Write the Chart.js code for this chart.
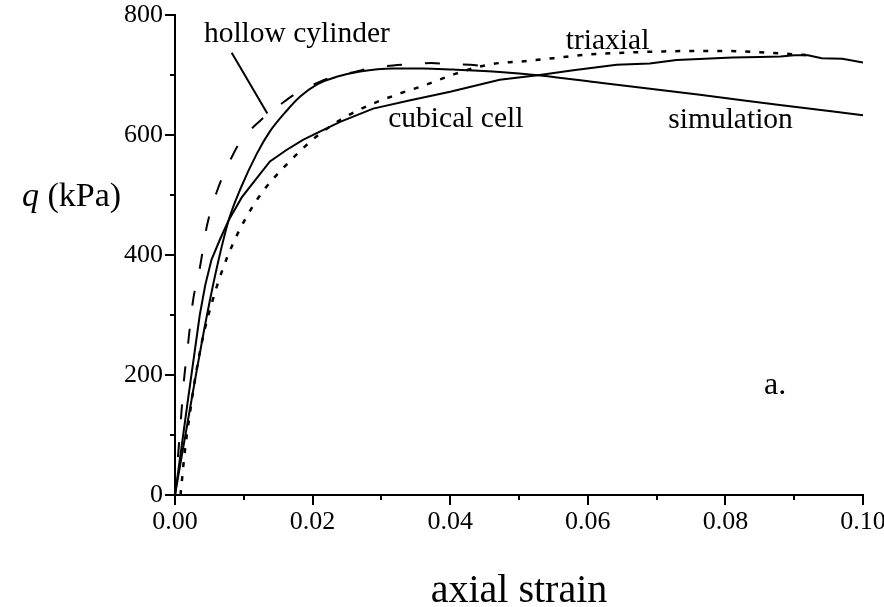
<!DOCTYPE html>
<html>
<head>
<meta charset="utf-8">
<script src="https://cdn.jsdelivr.net/npm/chart.js@4.4.1/dist/chart.umd.min.js"></script>
<style>
  html, body { margin: 0; padding: 0; background: #ffffff; }
  #wrap { width: 884px; height: 607px; }
</style>
</head>
<body>
<div id="wrap"><canvas id="chart" width="884" height="607"></canvas></div>
<script>
// Deviator stress q (kPa) against axial strain for four test types.
const simStrain = [0, 0.0025, 0.0046, 0.0062, 0.0078, 0.0095, 0.0119, 0.0138, 0.0162, 0.0182, 0.0206, 0.0235, 0.0269, 0.0317, 0.0360, 0.0404, 0.0472, 0.0531, 0.0618, 0.0763, 0.0879, 0.1000];
const simQ      = [0, 165, 297, 385, 458, 510, 569, 606, 640, 664, 684, 697, 706, 711, 711, 709, 705, 699, 687, 667, 650, 633];

const cubicStrain = [0, 0.0019, 0.0036, 0.0044, 0.0053, 0.0065, 0.0078, 0.0097, 0.0118, 0.0138, 0.0162, 0.0186, 0.0206, 0.0240, 0.0288, 0.0342, 0.0400, 0.0472, 0.0530, 0.0579, 0.0642, 0.0690, 0.0729, 0.0770, 0.0810, 0.0850, 0.0880, 0.0900, 0.0920, 0.0940, 0.0970, 0.1000];
const cubicQ      = [0, 160, 300, 350, 392, 425, 458, 496, 527, 556, 575, 592, 603, 622, 644, 658, 672, 692, 700, 708, 717, 719, 725, 727, 729, 730, 731, 733, 733, 728, 727, 721];

const hollowStrain = [0, 0.00087, 0.00131, 0.00193, 0.00257, 0.00363, 0.00461, 0.00606, 0.00824, 0.00945, 0.0125, 0.0158, 0.0177, 0.0211, 0.0230, 0.0264, 0.0283, 0.0317, 0.0342, 0.0373, 0.0397, 0.0429, 0.0451];
const hollowQ      = [0, 128, 192, 255, 320, 380, 447, 505, 563, 588, 625, 655, 670, 689, 697, 706, 711, 716, 718, 720, 718, 717, 714];

const triaxStrain = [0.0008, 0.00145, 0.00203, 0.00266, 0.00339, 0.0043, 0.00548, 0.00679, 0.00847, 0.01042, 0.01283, 0.01574, 0.0189, 0.0206, 0.0240, 0.0279, 0.0324, 0.0363, 0.0405, 0.0443, 0.0472, 0.0497, 0.055, 0.060, 0.065, 0.070, 0.075, 0.080, 0.085, 0.092];
const triaxQ      = [0, 75, 125, 175, 225, 275, 325, 372, 420, 464, 507, 545, 581, 598, 625, 648, 668, 683, 701, 714, 720, 722, 728, 734, 737, 739, 740, 740, 738, 733];

// Axis ticks
const xTickValues  = [0, 0.02, 0.04, 0.06, 0.08, 0.10];
const xMinorValues = [0.01, 0.03, 0.05, 0.07, 0.09];
const yTickValues  = [0, 200, 400, 600, 800];
const yMinorValues = [100, 300, 500, 700];

// Curve labels, anchored in data units (left edge, baseline)
const callouts = [
  { text: 'hollow cylinder', strain: 0.0042, q: 755, size: 29.5 },
  { text: 'triaxial',        strain: 0.0568, q: 743, size: 29.5 },
  { text: 'cubical cell',    strain: 0.0310, q: 614, size: 29.5 },
  { text: 'simulation',      strain: 0.0717, q: 612, size: 29.5 },
  { text: 'a.',              strain: 0.0856, q: 168, size: 32 }
];
// Leader from the "hollow cylinder" label to its curve
const leader = { from: { strain: 0.00824, q: 737 }, to: { strain: 0.01342, q: 636 } };

const SERIF = '"Liberation Serif", "Times New Roman", serif';

function pairs(xs, ys) { return xs.map((v, i) => ({ x: v, y: ys[i] })); }

const decorations = {
  id: 'decorations',
  afterDraw(chart) {
    const { ctx, scales: { x, y } } = chart;
    ctx.save();
    ctx.strokeStyle = '#000';
    ctx.fillStyle = '#000';
    ctx.lineWidth = 2;
    ctx.lineCap = 'butt';
    const x0 = x.getPixelForValue(0);
    const y0 = y.getPixelForValue(0);
    const seg = (a, b, c, d) => { ctx.beginPath(); ctx.moveTo(a, b); ctx.lineTo(c, d); ctx.stroke(); };
    xTickValues.forEach(v => { const p = Math.round(x.getPixelForValue(v)); seg(p, y0, p, y0 + 10); });
    xMinorValues.forEach(v => { const p = Math.round(x.getPixelForValue(v)); seg(p, y0, p, y0 + 5); });
    yTickValues.forEach(v => { const p = Math.round(y.getPixelForValue(v)); seg(x0, p, x0 - 10, p); });
    yMinorValues.forEach(v => { const p = Math.round(y.getPixelForValue(v)); seg(x0, p, x0 - 5, p); });

    // leader line
    seg(x.getPixelForValue(leader.from.strain), y.getPixelForValue(leader.from.q),
        x.getPixelForValue(leader.to.strain), y.getPixelForValue(leader.to.q));

    // curve labels
    ctx.textAlign = 'left';
    ctx.textBaseline = 'alphabetic';
    callouts.forEach(c => {
      ctx.font = c.size + 'px ' + SERIF;
      ctx.fillText(c.text, x.getPixelForValue(c.strain), y.getPixelForValue(c.q));
    });

    // y-axis title, set horizontally with an italic q
    const ty = y.getPixelForValue(497);
    ctx.textBaseline = 'middle';
    ctx.font = 'italic 34px ' + SERIF;
    ctx.fillText('q', 22, ty);
    const qw = ctx.measureText('q').width;
    ctx.font = '34px ' + SERIF;
    ctx.fillText(' (kPa)', 22 + qw, ty);
    ctx.restore();
  }
};

new Chart(document.getElementById('chart'), {
  type: 'line',
  data: {
    datasets: [
      { label: 'simulation', data: pairs(simStrain, simQ), borderColor: '#000', borderWidth: 2, cubicInterpolationMode: 'monotone' },
      { label: 'cubical cell', data: pairs(cubicStrain, cubicQ), borderColor: '#000', borderWidth: 2, tension: 0 },
      { label: 'hollow cylinder', data: pairs(hollowStrain, hollowQ), borderColor: '#000', borderWidth: 2, borderDash: [15, 23], cubicInterpolationMode: 'monotone' },
      { label: 'triaxial', data: pairs(triaxStrain, triaxQ), borderColor: '#000', borderWidth: 2.5, borderDash: [5, 9], cubicInterpolationMode: 'monotone' }
    ]
  },
  options: {
    responsive: false,
    animation: false,
    devicePixelRatio: 1,
    layout: { padding: { top: 15, right: 21, left: 0, bottom: 0 } },
    elements: { point: { radius: 0 }, line: { fill: false } },
    plugins: { legend: { display: false }, tooltip: { enabled: false } },
    scales: {
      x: {
        type: 'linear', min: 0, max: 0.1,
        afterBuildTicks: s => { s.ticks = xTickValues.map(v => ({ value: v })); },
        ticks: { callback: v => Number(v).toFixed(2), font: { family: SERIF, size: 26 }, color: '#000', padding: 12, maxRotation: 0, autoSkip: false },
        grid: { display: false, drawTicks: false },
        border: { display: true, color: '#000', width: 2 },
        title: { display: true, text: 'axial strain', font: { family: SERIF, size: 40, lineHeight: 1 }, color: '#000', padding: { top: 0, bottom: -4 } },
        afterFit: s => { s.height = 112; s.paddingLeft = 0; s.paddingRight = 0; }
      },
      y: {
        type: 'linear', min: 0, max: 800,
        afterBuildTicks: s => { s.ticks = yTickValues.map(v => ({ value: v })); },
        ticks: { font: { family: SERIF, size: 26 }, color: '#000', padding: 12 },
        grid: { display: false, drawTicks: false },
        border: { display: true, color: '#000', width: 2 },
        afterFit: s => { s.width = 175; s.paddingTop = 0; s.paddingBottom = 0; }
      }
    }
  },
  plugins: [decorations]
});
</script>
</body>
</html>
